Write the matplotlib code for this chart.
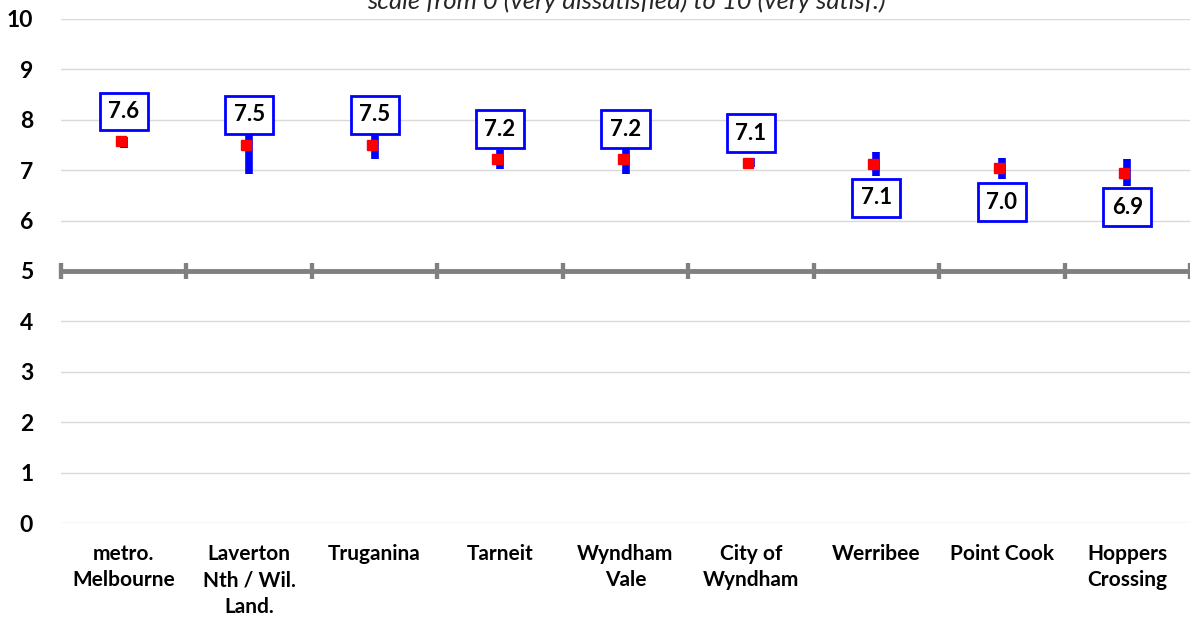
import numpy as np
import matplotlib.pyplot as plt
from matplotlib.transforms import offset_copy

# Satisfaction scores by area, with confidence ranges
areas = ["metro.\nMelbourne", "Laverton\nNth / Wil.\nLand.", "Truganina", "Tarneit",
         "Wyndham\nVale", "City of\nWyndham", "Werribee", "Point Cook", "Hoppers\nCrossing"]
means = [7.57, 7.50, 7.50, 7.22, 7.22, 7.14, 7.13, 7.04, 6.94]
lows = [7.45, 6.93, 7.22, 7.02, 6.93, 7.06, 6.88, 6.82, 6.68]
highs = [7.65, 8.07, 7.78, 7.40, 7.50, 7.25, 7.36, 7.24, 7.22]
label_side = ["above"] * 6 + ["below"] * 3
yticks = list(range(0, 11))
midpoint = 5

plt.rcParams['font.family'] = ['Lato', 'DejaVu Sans']

fig = plt.figure(figsize=(11.9, 6.19), dpi=100, facecolor="w")
ax = fig.add_axes([61 / 1190, 1 - 523 / 619, 1 - 61 / 1190, (523 - 19) / 619])

x = np.arange(len(areas))
means = np.array(means)
err = np.vstack([means - np.array(lows), np.array(highs) - means])

# grey reference line at the scale midpoint
ax.axhline(midpoint, color="#808080", lw=3.5, zorder=2)

# blue error bars and red means (red drawn a touch to the left, like the original)
ax.errorbar(x, means, yerr=err, fmt="none", ecolor="#0000ff", elinewidth=5.5, capsize=0, zorder=3)
red_tr = offset_copy(ax.transData, fig=fig, x=-3, y=0, units="dots")
ax.plot(x, means, "s", color="#ff0000", ms=6.5, mec="#ff0000", transform=red_tr, zorder=4)

# value boxes
for xi, m, side in zip(x, means, label_side):
    dy = 30 if side == "above" else -34
    ax.annotate(f"{m:.1f}", (xi, m), xytext=(0, dy), textcoords="offset pixels",
                ha="center", va="center", fontsize=16, fontweight="bold", color="black",
                bbox=dict(boxstyle="square,pad=0.38", fc="white", ec="#0000ff", lw=2),
                zorder=5)

ax.set_xlim(-0.5, len(areas) - 0.5)
ax.set_ylim(0, 10)
ax.set_yticks(yticks)
ax.set_yticklabels([str(t) for t in yticks], fontsize=16.5, fontweight="bold")
ax.set_xticks(x)
ax.set_xticklabels(areas, fontsize=15, fontweight="bold", linespacing=1.4)
ax.tick_params(axis="both", length=0)
ax.tick_params(axis="y", pad=20)
ax.tick_params(axis="x", pad=15)
ax.grid(axis="y", color="#d9d9d9", lw=1)
ax.set_axisbelow(True)
for s in ax.spines.values():
    s.set_visible(False)

# category dividers crossing the midpoint line
sec = ax.secondary_xaxis(midpoint / 10)
sec.set_xticks(np.arange(-0.5, len(areas), 1))
sec.set_xticklabels([])
sec.tick_params(axis="x", which="both", top=True, bottom=True, direction="inout",
                length=12, width=3, color="#808080")
for s in sec.spines.values():
    s.set_visible(False)

fig.text(0.526, 1 - 9 / 619, "scale from 0 (very dissatisfied) to 10 (very satisf.)",
         ha="center", va="baseline", fontsize=18.5, style="italic", color="#262626")

fig.savefig("out.png", dpi=100)
